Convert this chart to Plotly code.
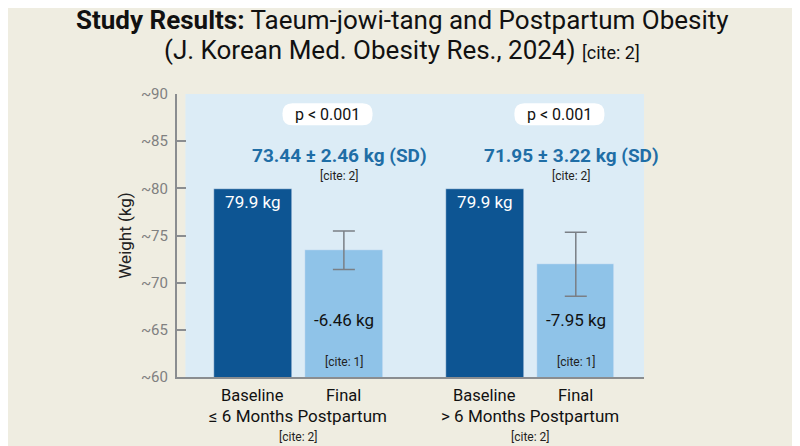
import plotly.graph_objects as go

# data
groups = ["≤ 6 Months Postpartum", "> 6 Months Postpartum"]
bar_names = ["Baseline", "Final"]
baseline_kg = [79.9, 79.9]
final_kg = [73.44, 71.95]
final_err = [2.05, 3.4]
final_sd = [2.46, 3.22]
change_kg = [-6.46, -7.95]
p_values = ["p < 0.001", "p < 0.001"]

DARK = "#0d5593"
LIGHT = "#8fc3e8"
PANEL = "#dcecf6"
BG = "#efede1"
FONT = "Roboto"

gap = 2.55  # distance between group starts, in bar slots
base_x = [g * gap for g in range(len(groups))]
final_x = [g * gap + 1 for g in range(len(groups))]

fig = go.Figure()
fig.add_trace(go.Bar(
    x=base_x, y=baseline_kg, width=0.85, marker_color=DARK,
    text=[f"{v} kg" for v in baseline_kg], textposition="inside",
    insidetextanchor="end", textfont=dict(color="white", size=17, family=FONT),
    showlegend=False,
))
fig.add_trace(go.Bar(
    x=final_x, y=final_kg, width=0.85, marker_color=LIGHT,
    error_y=dict(type="data", array=final_err, color="#7a7f85", thickness=1.5, width=11),
    showlegend=False,
))

# panel background
fig.add_shape(type="rect", xref="x domain", yref="y domain", x0=0.018, x1=1, y0=0, y1=1,
              fillcolor=PANEL, line_width=0, layer="below")

for g in range(len(groups)):
    bx, fx = base_x[g], final_x[g]
    cx = (bx + fx) / 2
    # rounded white box behind p value
    fig.add_shape(type="path", xsizemode="pixel", ysizemode="pixel",
                  xanchor=cx + 0.32, yanchor=87.85,
                  path="M -35,11 L 35,11 Q 45,11 45,1 L 45,-1 Q 45,-11 35,-11 "
                       "L -35,-11 Q -45,-11 -45,-1 L -45,1 Q -45,11 -35,11 Z",
                  fillcolor="white", line_width=0)
    fig.add_annotation(x=cx + 0.32, y=87.85, text=p_values[g], showarrow=False,
                       font=dict(size=16, color="#111", family=FONT))
    fig.add_annotation(x=cx + 0.45, y=83.5, showarrow=False,
                       text=f"<b>{final_kg[g]} ± {final_sd[g]} kg (SD)</b>",
                       font=dict(size=19, color="#1f6ea6", family=FONT))
    fig.add_annotation(x=cx + 0.45, y=81.35, text="[cite: 2]", showarrow=False,
                       font=dict(size=12, color="#222", family=FONT))
    fig.add_annotation(x=fx, y=66.0, text=f"{change_kg[g]} kg", showarrow=False,
                       font=dict(size=17, color="#111", family=FONT))
    fig.add_annotation(x=fx, y=61.6, text="[cite: 1]", showarrow=False,
                       font=dict(size=12, color="#222", family=FONT))
    # category labels under the axis
    for xx, name in zip([bx, fx], bar_names):
        fig.add_annotation(x=xx, y=-0.064, yref="paper", yanchor="middle", text=name,
                           showarrow=False, font=dict(size=16.5, color="#111", family=FONT))
    fig.add_annotation(x=cx, y=-0.138, yref="paper", yanchor="middle", text=groups[g],
                       showarrow=False, font=dict(size=17, color="#111", family=FONT))
    fig.add_annotation(x=cx, y=-0.212, yref="paper", yanchor="middle", text="[cite: 2]",
                       showarrow=False, font=dict(size=12, color="#222", family=FONT))

# two-line title
fig.add_annotation(x=0.4818, y=1.2615, xref="paper", yref="paper", yanchor="middle",
                   showarrow=False, font=dict(size=26, color="#111", family=FONT),
                   text="<b>Study Results:</b> Taeum-jowi-tang and Postpartum Obesity")
fig.add_annotation(x=0.4818, y=1.1555, xref="paper", yref="paper", yanchor="middle",
                   showarrow=False, font=dict(size=26, color="#111", family=FONT),
                   text="(J. Korean Med. Obesity Res., 2024) "
                        "<span style='font-size:18px'>[cite: 2]</span>")

tick_vals = [60, 65, 70, 75, 80, 85, 90]
fig.update_layout(
    width=800, height=446,
    paper_bgcolor=BG, plot_bgcolor="rgba(0,0,0,0)",
    margin=dict(l=169, r=164, t=86, b=77),
    font=dict(family=FONT),
    bargap=0,
)
fig.update_xaxes(range=[-0.835, 4.3], showticklabels=False, showgrid=False, zeroline=False,
                 showline=True, linecolor="#8a8d90", linewidth=2)
fig.update_yaxes(range=[60, 90], tickvals=tick_vals, ticktext=[f"~{v}" for v in tick_vals],
                 showgrid=False, zeroline=False, showline=True, linecolor="#8a8d90", linewidth=2,
                 ticks="inside", ticklen=9, tickcolor="#8a8d90", tickwidth=1.5,
                 ticklabelstandoff=4,
                 tickfont=dict(size=15, color="#808080", family=FONT),
                 title=dict(text="Weight (kg)", font=dict(size=17, color="#222", family=FONT),
                            standoff=5))

fig.write_html("out.html")
